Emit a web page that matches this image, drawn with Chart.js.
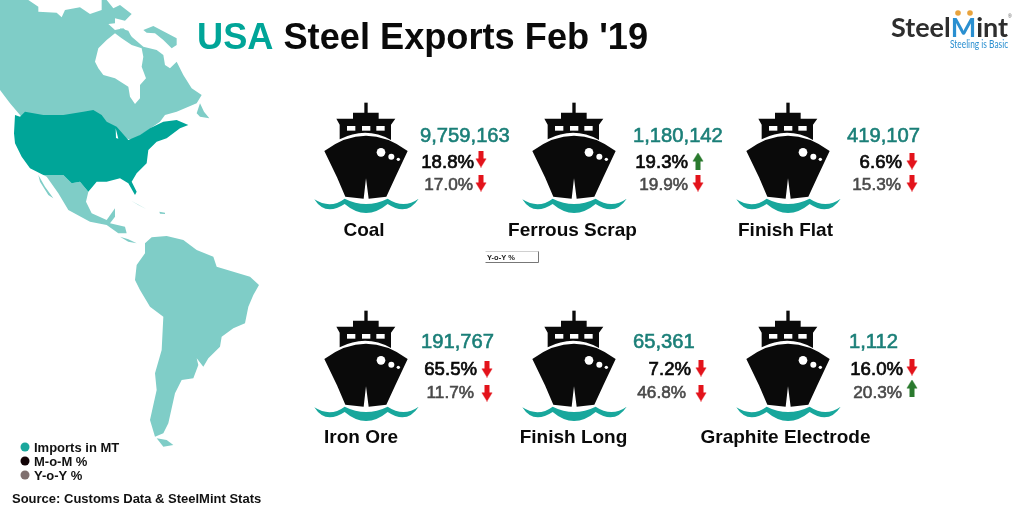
<!DOCTYPE html>
<html>
<head>
<meta charset="utf-8">
<title>USA Steel Exports Feb '19</title>
<script src="https://cdn.jsdelivr.net/npm/chart.js@4"></script>
<style>
    html, body { margin: 0; padding: 0; background: #fff; }
    canvas { display: block; }
</style>
</head>
<body>
<canvas id="exportsChart" width="1024" height="512"></canvas>
<script>
// Values
const categories = ['Coal', 'Ferrous Scrap', 'Finish Flat', 'Iron Ore', 'Finish Long', 'Graphite Electrode'];
const exportsMT = [9759163, 1180142, 419107, 191767, 65361, 1112];
const momPct = [18.8, 19.3, 6.6, 65.5, 7.2, 16.0];
const yoyPct = [17.0, 19.9, 15.3, 11.7, 46.8, 20.3];
const momDir = ['down', 'up', 'down', 'down', 'down', 'down'];
const yoyDir = ['down', 'down', 'down', 'down', 'down', 'up'];
const legendLabels = ['Imports in MT', 'M-o-M %', 'Y-o-Y %'];

// Layout of the six cards, in page pixels
const shipX = [366, 574, 788, 366, 574, 788];
const shipY = [158, 158, 158, 366, 366, 366];
const valueX = [420, 633, 847, 421, 633, 849];
const valueY = [142, 142, 142, 348, 348, 348];
const momRight = [474, 688, 902, 477, 691, 903];
const momY = [168, 168, 168, 375, 375, 375];
const yoyRight = [473, 688, 901, 474, 686, 902];
const yoyY = [190, 190, 190, 398, 398, 398];
const momArrowX = [481, 698, 912, 487, 701, 912];
const momArrowY = [159, 161, 161, 369, 368, 367];
const yoyArrowX = [481, 698, 912, 487, 701, 912];
const yoyArrowY = [183, 183, 183, 393, 393, 388];
const labelX = [364, 572.5, 785.5, 361, 573.5, 785.5];
const labelY = [236, 236, 236, 443, 443, 443];
const legendY = [447, 461, 475];
const legendColors = ['#1aa79c', '#120306', '#80706f'];

const TEAL = '#00a598';
const LIGHT_TEAL = '#7fcdc7';
const VALUE_TEAL = '#1b7f78';
const FONT = '"Liberation Sans", Arial, sans-serif';

// Map outlines, traced at 3x
const landLight = [
    [[0,0],[85,0],[115,20],[115,35],[170,38],[185,52],[195,30],[240,22],[270,42],[305,30],[305,0],[320,0],[340,25],[360,15],[395,42],[375,62],[345,55],[345,70],[325,72],[345,90],[370,85],[395,110],[430,140],[470,150],[490,165],[495,195],[510,205],[530,185],[550,225],[575,265],[605,285],[590,310],[530,335],[495,345],[480,365],[400,420],[300,400],[100,400],[60,345],[30,310],[0,270]],
    [[430,90],[460,78],[530,115],[530,135],[515,145],[490,120],[465,100],[440,98]],
    [[360,85],[385,92],[395,112],[375,110]],
    [[590,340],[600,310],[612,335],[628,355],[600,350]],
    [[130,525],[190,525],[215,550],[240,545],[265,575],[258,605],[275,640],[320,660],[345,625],[345,650],[330,670],[375,680],[380,700],[355,700],[320,675],[270,665],[205,630],[175,580],[140,530]],
    [[115,525],[135,560],[160,595],[145,585],[120,545]],
    [[395,603],[440,628],[415,615]],
    [[478,635],[495,638],[495,642],[480,641]],
    [[360,710],[385,718],[410,730],[385,725]],
    [[435,730],[455,712],[500,708],[550,720],[590,750],[640,770],[650,800],[700,815],[750,830],[777,855],[760,885],[745,920],[735,970],[700,985],[665,1010],[660,1040],[625,1075],[610,1100],[590,1075],[595,1095],[580,1135],[545,1140],[525,1180],[515,1225],[505,1270],[490,1300],[465,1310],[450,1260],[470,1170],[465,1120],[485,1050],[490,950],[450,920],[420,870],[405,840],[410,795],[435,760]],
    [[470,1315],[500,1320],[520,1335],[490,1340]]
];
const hudsonBay = [[285,185],[295,145],[320,120],[345,100],[365,115],[395,135],[425,145],[430,170],[425,200],[438,235],[420,255],[420,295],[405,312],[390,290],[385,260],[345,235],[310,225],[295,205]];
const lakeMichigan = [[347,385],[355,416],[348,414]];
const landUSA = [[45,345],[60,350],[75,335],[130,345],[190,345],[250,335],[280,330],[305,345],[320,365],[350,380],[385,420],[420,405],[450,385],[490,365],[530,360],[565,375],[540,385],[520,400],[500,415],[470,425],[445,450],[440,490],[410,520],[395,545],[410,575],[405,585],[385,550],[360,535],[320,545],[290,545],[265,575],[240,545],[215,550],[190,525],[130,525],[90,505],[65,470],[45,430],[42,400]];

function makeShip() {
    const c = document.createElement('canvas');
    c.width = 110;
    c.height = 112;
    const g = c.getContext('2d');
    g.scale(1 / 3, 1 / 3);
    g.translate(165 - 197, 168 - 204);
    g.fillStyle = '#0a0a0a';
    g.fillRect(192, 38, 10, 32);
    g.beginPath();
    g.moveTo(158, 68); g.lineTo(235, 68); g.lineTo(235, 86); g.lineTo(285, 86);
    g.lineTo(272, 104); g.lineTo(272, 150);
    g.quadraticCurveTo(197, 108, 118, 148);
    g.lineTo(118, 104); g.lineTo(108, 86); g.lineTo(158, 86);
    g.closePath();
    g.fill();
    g.fillStyle = '#fff';
    [140, 185, 228].forEach(x => g.fillRect(x, 108, 25, 14));
    // hull
    g.fillStyle = '#0a0a0a';
    g.beginPath();
    g.moveTo(72, 183);
    g.quadraticCurveTo(197, 92, 322, 183);
    g.lineTo(285, 262); g.lineTo(258, 320); g.lineTo(205, 326);
    g.lineTo(197, 265);
    g.lineTo(190, 326); g.lineTo(135, 320); g.lineTo(110, 262);
    g.closePath();
    g.fill();
    g.fillStyle = '#fff';
    [[242, 187, 13], [273, 200, 9], [294, 208, 5]].forEach(p => {
        g.beginPath();
        g.arc(p[0], p[1], p[2], 0, Math.PI * 2);
        g.fill();
    });
    // waves
    g.fillStyle = '#18a79c';
    g.beginPath();
    g.moveTo(42, 328);
    g.quadraticCurveTo(90, 358, 133, 326);
    g.quadraticCurveTo(197, 358, 262, 326);
    g.quadraticCurveTo(310, 358, 355, 326);
    g.quadraticCurveTo(320, 380, 262, 342);
    g.quadraticCurveTo(197, 396, 133, 342);
    g.quadraticCurveTo(75, 380, 42, 328);
    g.fill();
    return c;
}

function makeArrow(dir) {
    const c = document.createElement('canvas');
    c.width = 12;
    c.height = 17;
    const g = c.getContext('2d');
    if (dir === 'up') {
        g.translate(0, 17);
        g.scale(1, -1);
    }
    g.fillStyle = dir === 'up' ? '#2a7a2e' : '#e3131b';
    g.beginPath();
    g.moveTo(3.5, 0); g.lineTo(8.5, 0); g.lineTo(8.5, 8); g.lineTo(11.5, 8);
    g.lineTo(6, 17); g.lineTo(0.5, 8); g.lineTo(3.5, 8);
    g.closePath();
    g.fill();
    return c;
}

const shipImg = makeShip();
const arrowImg = { up: makeArrow('up'), down: makeArrow('down') };

function text(ctx, str, x, y, font, color, align, stroke) {
    ctx.font = font;
    ctx.fillStyle = color;
    ctx.textAlign = align || 'left';
    ctx.textBaseline = 'alphabetic';
    ctx.fillText(str, x, y);
    // regular face thickened a little, the original is a medium weight
    if (stroke) {
        ctx.strokeStyle = color;
        ctx.lineWidth = stroke;
        ctx.strokeText(str, x, y);
    }
}

function poly(ctx, pts, color) {
    ctx.fillStyle = color;
    ctx.beginPath();
    pts.forEach((p, i) => i ? ctx.lineTo(p[0] / 3, p[1] / 3) : ctx.moveTo(p[0] / 3, p[1] / 3));
    ctx.closePath();
    ctx.fill();
}

// Map goes under the datasets
const mapPlugin = {
    id: 'map',
    beforeDatasetsDraw(chart) {
        const ctx = chart.ctx;
        ctx.save();
        ctx.fillStyle = '#fff';
        ctx.fillRect(0, 0, chart.width, chart.height);
        landLight.slice(0, 1).forEach(p => poly(ctx, p, LIGHT_TEAL));
        poly(ctx, hudsonBay, '#fff');
        landLight.slice(1).forEach(p => poly(ctx, p, LIGHT_TEAL));
        poly(ctx, landUSA, TEAL);
        poly(ctx, lakeMichigan, '#fff');
        ctx.restore();
    }
};

// All the text of the page
const textPlugin = {
    id: 'texts',
    afterDatasetsDraw(chart) {
        const ctx = chart.ctx;
        ctx.save();

        // title
        const titleFont = 'bold 36.2px ' + FONT;
        text(ctx, 'USA', 197, 49, titleFont, TEAL);
        const usaWidth = ctx.measureText('USA ').width;
        text(ctx, "Steel Exports Feb '19", 197 + usaWidth, 49, titleFont, '#0a0a0a');

        // logo
        const logoFont = 'bold 27px Lato, ' + FONT;
        text(ctx, 'Steel', 891, 37, logoFont, '#2e2e2e');
        const steelW = ctx.measureText('Steel').width;
        text(ctx, 'M', 891 + steelW, 37, logoFont, '#2a8fd0');
        const mW = ctx.measureText('M').width;
        text(ctx, 'int', 891 + steelW + mW, 37, logoFont, '#2e2e2e');
        text(ctx, '®', 1008, 18, '5px ' + FONT, '#555');
        // tagline is a condensed face
        ctx.save();
        ctx.translate(950, 48);
        ctx.scale(0.76, 1);
        text(ctx, 'Steeling is Basic', 0, 0, '11px Lato, ' + FONT, '#2a8fd0');
        ctx.restore();

        // cards
        categories.forEach((name, i) => {
            text(ctx, exportsMT[i].toLocaleString('en-US'), valueX[i], valueY[i], '20.2px ' + FONT, VALUE_TEAL, 'left', 0.6);
            text(ctx, momPct[i].toFixed(1) + '%', momRight[i], momY[i], '18.6px ' + FONT, '#0a0a0a', 'right', 0.7);
            text(ctx, yoyPct[i].toFixed(1) + '%', yoyRight[i], yoyY[i], '17.2px ' + FONT, '#4a4a4a', 'right', 0.6);
            text(ctx, name, labelX[i], labelY[i], 'bold 19px ' + FONT, '#0a0a0a', 'center');
        });

        // legend
        legendLabels.forEach((label, i) => {
            text(ctx, label, 34, legendY[i] + 4.5, 'bold 13px ' + FONT, '#111');
        });
        text(ctx, 'Source: Customs Data & SteelMint Stats', 12, 503, 'bold 13px ' + FONT, '#111');

        // stray cell label
        ctx.lineWidth = 1;
        ctx.strokeStyle = '#d0d0d0';
        ctx.beginPath();
        ctx.moveTo(485.5, 251.5); ctx.lineTo(538.5, 251.5);
        ctx.stroke();
        ctx.strokeStyle = '#777';
        ctx.beginPath();
        ctx.moveTo(538.5, 251.5); ctx.lineTo(538.5, 262.5); ctx.lineTo(485.5, 262.5);
        ctx.stroke();
        text(ctx, 'Y-o-Y %', 487, 260, 'bold 7.5px ' + FONT, '#222');
        ctx.restore();
    }
};

new Chart(document.getElementById('exportsChart').getContext('2d'), {
    type: 'scatter',
    data: {
        datasets: [
            {
                label: 'Ships',
                data: categories.map((c, i) => ({ x: shipX[i], y: shipY[i] })),
                pointStyle: shipImg
            },
            {
                label: 'M-o-M %',
                data: momPct.map((v, i) => ({ x: momArrowX[i], y: momArrowY[i] })),
                pointStyle: momDir.map(d => arrowImg[d])
            },
            {
                label: 'Y-o-Y %',
                data: yoyPct.map((v, i) => ({ x: yoyArrowX[i], y: yoyArrowY[i] })),
                pointStyle: yoyDir.map(d => arrowImg[d])
            },
            {
                label: 'Legend',
                data: legendY.map(y => ({ x: 25, y: y })),
                pointStyle: 'circle',
                pointRadius: 4.5,
                pointBorderWidth: 0,
                backgroundColor: legendColors
            },
            {
                label: 'Logo dots',
                data: [{ x: 958, y: 13 }, { x: 970, y: 13 }],
                pointStyle: 'circle',
                pointRadius: 2.8,
                pointBorderWidth: 0,
                backgroundColor: '#e8a33d'
            }
        ]
    },
    options: {
        responsive: false,
        animation: false,
        layout: { padding: 0, autoPadding: false },
        scales: {
            x: { type: 'linear', min: 0, max: 1024, display: false },
            y: { type: 'linear', min: 0, max: 512, reverse: true, display: false }
        },
        plugins: {
            legend: { display: false },
            tooltip: { enabled: false }
        }
    },
    plugins: [mapPlugin, textPlugin]
});
</script>
</body>
</html>
